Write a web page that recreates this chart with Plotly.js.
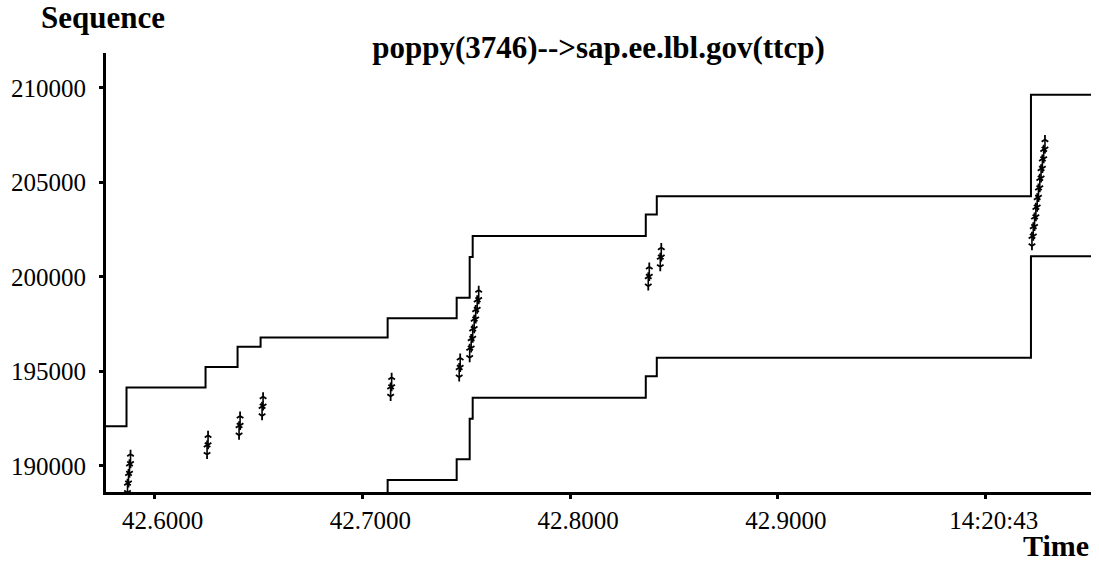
<!DOCTYPE html>
<html>
<head>
<meta charset="utf-8">
<script src="https://cdn.plot.ly/plotly-3.0.1.min.js"></script>
<style>
  html, body { margin: 0; padding: 0; background: #fff; }
  #plot { width: 1099px; height: 564px; }
</style>
</head>
<body>
<div id="plot"></div>
<script>
// Advertised window edge (upper step line): time of each step and the new edge
const winTime = [42.57665, 42.58652, 42.62455, 42.63996, 42.65104, 42.71218, 42.74540, 42.75166, 42.75311, 42.83640, 42.84170, 43.02176, 43.05065];
const winSeq  = [192100, 194150, 195240, 196300, 196800, 197810, 198900, 201050, 202160, 203300, 204270, 209640, 209640];

// Cumulative ACK (lower step line)
const ackTime = [42.57665, 42.58652, 42.62455, 42.63996, 42.65104, 42.71218, 42.74540, 42.75166, 42.75311, 42.83640, 42.84170, 43.02176, 43.05065];
const ackSeq  = [183550, 185600, 186690, 187750, 188250, 189250, 190350, 192500, 193610, 194750, 195720, 201100, 201100];

// Data segments sent: send time and starting sequence number of each segment
const segTime = [
  42.58700, 42.58748, 42.58796, 42.58845,
  42.62528, 42.62576,
  42.64068, 42.64117,
  42.65176, 42.65224,
  42.71362, 42.71411,
  42.74661, 42.74709,
  42.75166, 42.75238, 42.75311, 42.75383, 42.75455, 42.75527, 42.75600,
  42.83760, 42.83808,
  42.84338, 42.84386,
  43.02224, 43.02287, 43.02349, 43.02412, 43.02475, 43.02537, 43.02600, 43.02662, 43.02725, 43.02788, 43.02850
];
const segStart = [
  188580, 189092, 189604, 190116,
  190600, 191112,
  191624, 192136,
  192648, 193160,
  193672, 194184,
  194696, 195208,
  195720, 196232, 196744, 197256, 197768, 198280, 198792,
  199510, 200022,
  200534, 201046,
  201640, 202152, 202664, 203176, 203688, 204200, 204712, 205224, 205736, 206248, 206760
];
const segLen = 512;

const xTickVals = [42.6, 42.7, 42.8, 42.9, 43.0];
const xTickText = ['42.6000', '42.7000', '42.8000', '42.9000', '14:20:43'];
const yTickVals = [190000, 195000, 200000, 205000, 210000];

// vertical bar for each segment, separated by gaps
const barX = [], barY = [], topY = [], botY = [];
segTime.forEach((t, i) => {
  const s = segStart[i], e = segStart[i] + segLen;
  barX.push(t, t, null);
  barY.push(s, e, null);
  topY.push(e);
  botY.push(s);
});

const serif = 'Liberation Serif';
const ink = '#000';

const traces = [
  { x: winTime, y: winSeq, mode: 'lines', line: { shape: 'hv', color: ink, width: 2 }, hoverinfo: 'skip' },
  { x: ackTime, y: ackSeq, mode: 'lines', line: { shape: 'hv', color: ink, width: 2 }, hoverinfo: 'skip' },
  { x: barX, y: barY, mode: 'lines', line: { color: ink, width: 1.6 }, connectgaps: false, hoverinfo: 'skip' },
  // arrowheads: chevron at the top and bottom of each segment
  { x: segTime, y: topY, mode: 'markers',
    marker: { symbol: 'y-up', size: 5.5, color: ink, line: { color: ink, width: 1.8 } }, hoverinfo: 'skip' },
  { x: segTime, y: botY, mode: 'markers',
    marker: { symbol: 'y-down', size: 5.5, color: ink, line: { color: ink, width: 1.8 } }, hoverinfo: 'skip' }
];

const layout = {
  width: 1099, height: 564,
  margin: { l: 106, r: 8, t: 53, b: 72 },
  paper_bgcolor: '#fff', plot_bgcolor: '#fff',
  showlegend: false,
  font: { family: serif, color: ink, size: 25 },
  title: {
    text: 'poppy(3746)-->sap.ee.lbl.gov(ttcp)',
    font: { family: serif, size: 31, color: ink, weight: 'bold' },
    x: 0.5, xanchor: 'center', xref: 'paper',
    y: 0.917, yref: 'container', yanchor: 'middle'
  },
  xaxis: {
    range: [42.57665, 43.05065],
    tickvals: xTickVals, ticktext: xTickText,
    ticks: 'outside', ticklen: 4, tickwidth: 3, tickcolor: ink,
    showline: true, linewidth: 3, linecolor: ink,
    showgrid: false, zeroline: false,
    tickfont: { family: serif, size: 25, color: ink },
    ticklabelshift: 8
  },
  yaxis: {
    range: [188620, 211850],
    tickvals: yTickVals, ticktext: yTickVals.map(String),
    ticks: 'outside', ticklen: 4, tickwidth: 3, tickcolor: ink,
    showline: true, linewidth: 3, linecolor: ink,
    showgrid: false, zeroline: false,
    tickfont: { family: serif, size: 25, color: ink },
    ticklabelstandoff: 8
  },
  annotations: [
    { text: '<b>Sequence</b>', xref: 'paper', yref: 'paper', x: -0.068, y: 1.0, yshift: 36,
      xanchor: 'left', yanchor: 'middle', showarrow: false, font: { family: serif, size: 31, color: ink } },
    { text: '<b>Time</b>', xref: 'paper', yref: 'paper', x: 1.0, y: 0, yshift: -53,
      xanchor: 'right', yanchor: 'middle', showarrow: false, font: { family: serif, size: 30, color: ink } }
  ]
};

Plotly.newPlot('plot', traces, layout, { staticPlot: true, displayModeBar: false });
</script>
</body>
</html>
